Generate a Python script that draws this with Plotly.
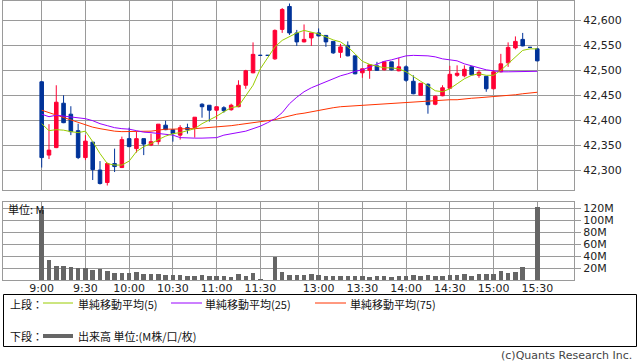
import plotly.graph_objects as go

# ---------------- data ----------------
times = [f"{9 + (5 * i) // 60}:{(5 * i) % 60:02d}" for i in range(31)] + ["12:25"] + \
        [f"{12 + (30 + 5 * i) // 60}:{(30 + 5 * i) % 60:02d}" for i in range(37)]

tick_labels = ["9:00", "9:30", "10:00", "10:30", "11:00", "11:30",
               "13:00", "13:30", "14:00", "14:30", "15:00", "15:30"]

opens = [42477, 42330, 42345, 42434, 42412, 42379, 42325, 42356, 42300, 42275,
         42313, 42305, 42363, 42343, 42363, 42350, 42357, 42390, 42381, 42370,
         42385, 42385, 42432, 42430, 42420, 42425, 42421, 42427, 42470, 42495,
         42530, 42530, 42523, 42582, 42628, 42575, 42557, 42565, 42575, 42570,
         42558, 42536, 42550, 42529, 42495, 42500, 42509, 42501, 42517, 42499,
         42507, 42478, 42450, 42472, 42432, 42449, 42464, 42490, 42489, 42507,
         42490, 42488, 42463, 42497, 42515, 42545, 42562, 42546, 42543]
highs = [42478, 42392, 42470, 42450, 42428, 42393, 42370, 42356, 42318, 42315,
         42343, 42367, 42385, 42377, 42363, 42373, 42392, 42399, 42381, 42390,
         42393, 42406, 42434, 42430, 42427, 42428, 42433, 42480, 42501, 42556,
         42530, 42530, 42582, 42625, 42634, 42581, 42592, 42575, 42584, 42570,
         42558, 42553, 42558, 42529, 42503, 42511, 42517, 42517, 42517, 42525,
         42510, 42490, 42474, 42474, 42450, 42470, 42509, 42510, 42510, 42508,
         42501, 42488, 42500, 42533, 42556, 42568, 42575, 42546, 42545]
lows = [42305, 42322, 42344, 42394, 42370, 42322, 42320, 42280, 42271, 42269,
        42296, 42304, 42346, 42335, 42330, 42348, 42351, 42380, 42357, 42361,
        42373, 42365, 42405, 42397, 42402, 42415, 42419, 42426, 42463, 42494,
        42530, 42530, 42521, 42575, 42571, 42549, 42556, 42549, 42568, 42547,
        42533, 42525, 42528, 42492, 42485, 42483, 42499, 42500, 42500, 42498,
        42477, 42452, 42450, 42413, 42430, 42448, 42463, 42487, 42486, 42490,
        42485, 42457, 42462, 42496, 42507, 42542, 42548, 42546, 42518]
closes = [42325, 42340, 42436, 42395, 42377, 42325, 42358, 42301, 42273, 42313,
          42307, 42361, 42347, 42363, 42352, 42357, 42392, 42381, 42373, 42385,
          42381, 42406, 42427, 42420, 42427, 42419, 42430, 42470, 42499, 42532,
          42530, 42530, 42580, 42622, 42575, 42557, 42562, 42575, 42569, 42557,
          42535, 42547, 42529, 42493, 42503, 42511, 42500, 42517, 42501, 42507,
          42480, 42453, 42474, 42431, 42448, 42465, 42492, 42494, 42502, 42491,
          42496, 42463, 42497, 42513, 42546, 42558, 42549, 42546, 42519]

sma5 = [42393, 42379, 42381, 42380, 42377, 42375, 42378, 42357, 42333, 42313,
        42310, 42310, 42318, 42337, 42347, 42353, 42361, 42368, 42373, 42375,
        42379, 42383, 42393, 42400, 42408, 42417, 42425, 42428, 42448, 42470,
        42503, 42525, 42547, 42560, 42568, 42575, 42580, 42577, 42573, 42567,
        42561, 42557, 42547, 42533, 42518, 42512, 42509, 42505, 42505, 42503,
        42497, 42487, 42478, 42469, 42459, 42457, 42463, 42473, 42483, 42490,
        42493, 42490, 42490, 42500, 42513, 42528, 42540, 42543, 42543]
sma25 = [42412, 42407, 42410, 42408, 42407, 42405, 42403, 42399, 42393, 42389,
         42385, 42383, 42382, 42379, 42376, 42375, 42373, 42371, 42370, 42365,
         42364, 42364, 42364, 42364, 42365, 42370, 42373, 42375, 42378, 42383,
         42388, 42395, 42403, 42415, 42433, 42446, 42457, 42465, 42471, 42477,
         42482, 42489, 42493, 42498, 42501, 42507, 42513, 42518, 42521, 42525,
         42529, 42530, 42530, 42529, 42527, 42523, 42521, 42519, 42513, 42509,
         42505, 42501, 42499, 42497, 42497, 42497, 42498, 42498, 42498]
sma75 = [42420, 42415, 42410, 42405, 42400, 42395, 42390, 42386, 42383, 42380,
         42378, 42377, 42377, 42377, 42377, 42378, 42380, 42382, 42382, 42383,
         42383, 42383, 42384, 42385, 42387, 42388, 42389, 42391, 42393, 42395,
         42397, 42399, 42401, 42405, 42409, 42412, 42414, 42417, 42420, 42423,
         42425, 42427, 42428, 42429, 42430, 42431, 42432, 42433, 42434, 42435,
         42436, 42437, 42437, 42438, 42439, 42440, 42441, 42441, 42443, 42444,
         42445, 42446, 42447, 42448, 42450, 42451, 42453, 42455, 42456]

volume_m = [118, 34, 24, 24, 22, 20, 20, 17, 19, 15.5,
            12, 12, 12, 14, 10.5, 10.5, 10.5, 9, 9, 9,
            7, 8, 9, 7, 7, 7, 5.5, 10.5, 8, 12,
            2, 0, 39, 14, 9, 9, 9, 10.5, 9, 7,
            7, 7, 7, 7, 7, 5.5, 7, 7, 5.5, 7,
            7, 9, 7, 9, 7, 7, 9, 9, 10.5, 7,
            10.5, 10.5, 10.5, 15.5, 12, 14, 22, 0, 122]

price_ticks = [42300, 42350, 42400, 42450, 42500, 42550, 42600]
volume_ticks = [20, 40, 60, 80, 100, 120]
volume_tick_labels = ["20M", "40M", "60M", "80M", "100M", "120M"]

# ---------------- figure ----------------
W, H = 638, 362
idx = list(range(len(times)))
tickpos = [times.index(t) for t in tick_labels]

RED = "#ff0033"
BLUE = "#003399"
GRID = "#9a9a9a"
FONT = "DejaVu Sans"
JFONT = "Noto Sans CJK JP"

fig = go.Figure()
fig.add_trace(go.Candlestick(
    x=idx, open=opens, high=highs, low=lows, close=closes,
    increasing=dict(line=dict(color=RED, width=1), fillcolor=RED),
    decreasing=dict(line=dict(color=BLUE, width=1), fillcolor=BLUE),
    whiskerwidth=0, xaxis="x", yaxis="y", hoverinfo="skip", showlegend=False))
fig.add_trace(go.Scatter(x=idx, y=sma75, mode="lines", line=dict(color="#ff3300", width=1),
                         xaxis="x", yaxis="y", showlegend=False, hoverinfo="skip"))
fig.add_trace(go.Scatter(x=idx, y=sma25, mode="lines", line=dict(color="#9900ff", width=1),
                         xaxis="x", yaxis="y", showlegend=False, hoverinfo="skip"))
fig.add_trace(go.Scatter(x=idx, y=sma5, mode="lines", line=dict(color="#99cc00", width=1),
                         xaxis="x", yaxis="y", showlegend=False, hoverinfo="skip"))
fig.add_trace(go.Bar(x=idx, y=volume_m, width=0.62, marker=dict(color="#666666", line=dict(width=0)),
                     xaxis="x2", yaxis="y2", showlegend=False, hoverinfo="skip"))

xdom = [3 / W, 574 / W]
xr = [-5.31, 73.04]
common_x = dict(domain=xdom, range=xr, tickmode="array", tickvals=tickpos,
                showgrid=True, gridcolor=GRID, gridwidth=1, showline=True, linecolor=GRID,
                mirror=True, zeroline=False, ticks="", fixedrange=True, automargin=False)

fig.update_layout(
    width=W, height=H, margin=dict(l=0, r=0, t=0, b=0, autoexpand=False),
    paper_bgcolor="white", plot_bgcolor="white", bargap=0,
    font=dict(family=FONT, size=11, color="#222"),
    xaxis=dict(**common_x, anchor="y", showticklabels=False, rangeslider=dict(visible=False)),
    yaxis=dict(domain=[1 - 190 / H, 1 - 0.5 / H], range=[42260, 42640], side="right", anchor="x",
               tickmode="array", tickvals=price_ticks, tickformat=",d",
               showgrid=True, gridcolor=GRID, showline=True, linecolor=GRID, mirror=True,
               ticks="outside", ticklen=6, tickcolor=GRID, zeroline=False, automargin=False,
               tickfont=dict(family=FONT, size=11, color="#222"), fixedrange=True),
    xaxis2=dict(**common_x, anchor="y2", ticktext=tick_labels, showticklabels=True,
                ticklabelstandoff=-3,
                tickfont=dict(family=FONT, size=11, color="#222")),
    yaxis2=dict(domain=[1 - 280.3 / H, 1 - 202 / H], range=[0, 130.5], side="right", anchor="x2",
                tickmode="array", tickvals=volume_ticks, ticktext=volume_tick_labels,
                showgrid=True, gridcolor=GRID, showline=True, linecolor=GRID, mirror=True,
                ticks="outside", ticklen=6, tickcolor=GRID, zeroline=False, automargin=False,
                tickfont=dict(family=FONT, size=11, color="#222"), fixedrange=True),
    hovermode=False,
)

def px(x):
    return x / W

def py(y):
    return 1 - y / H

shapes = [
    dict(type="rect", xref="paper", yref="paper", x0=px(3.5), x1=px(636.5), y0=py(346.5), y1=py(294.5),
         line=dict(color="black", width=1), fillcolor="rgba(0,0,0,0)"),
    dict(type="line", xref="paper", yref="paper", x0=px(43), x1=px(73), y0=py(303), y1=py(303),
         line=dict(color="#99cc00", width=1)),
    dict(type="line", xref="paper", yref="paper", x0=px(171), x1=px(202), y0=py(303), y1=py(303),
         line=dict(color="#9900ff", width=1)),
    dict(type="line", xref="paper", yref="paper", x0=px(315), x1=px(346), y0=py(303), y1=py(303),
         line=dict(color="#ff3300", width=1)),
    dict(type="line", xref="paper", yref="paper", x0=px(43), x1=px(73), y0=py(336), y1=py(336),
         line=dict(color="#666666", width=4)),
]

def ann(text, x, y, anchor="left", size=11, family=JFONT, color="#111"):
    return dict(text=text, x=px(x), y=py(y), xref="paper", yref="paper", showarrow=False,
                xanchor=anchor, yanchor="middle", borderpad=0,
                font=dict(family=family, size=size, color=color))

annotations = [
    ann("単位: M", 7, 209, size=11),
    ann("上段：", 9, 304),
    ann("単純移動平均(5)", 77, 304),
    ann("単純移動平均(25)", 204, 304),
    ann("単純移動平均(75)", 349, 304),
    ann("下段：", 9, 336),
    ann("出来高 単位:(M株/口/枚)", 77, 336),
    ann("(c)Quants Research Inc.", 633, 355, anchor="right", family=FONT, size=11, color="#444"),
]

fig.update_layout(shapes=shapes, annotations=annotations)
fig.write_html("out.html", config={"displayModeBar": False, "staticPlot": True},
               post_script="document.body.style.margin='0';document.body.style.padding='0';")
